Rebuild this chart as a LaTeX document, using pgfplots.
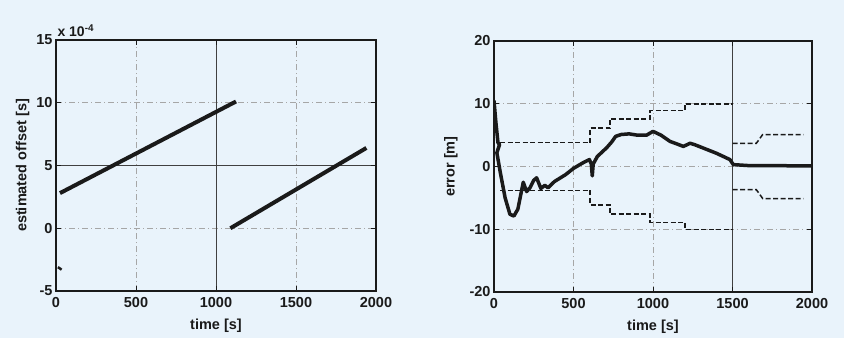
\documentclass[border=0pt]{standalone}
\usepackage{pgfplots}
\pgfplotsset{compat=1.18}
\usepackage{fontspec}
\setmainfont{Liberation Sans}
\definecolor{bg}{HTML}{E9F3FB}
\definecolor{ink}{HTML}{1A1A1A}
\begin{document}
\begin{tikzpicture}
\fill[bg] (0pt,0pt) rectangle (844pt,338pt);
\pgfplotsset{
 mystyle/.style={
  scale only axis, width=320pt, height=251pt, anchor=south west,
  xmin=0, xmax=2000, xtick={0,500,1000,1500,2000},
  axis line style={ink, line width=1.4pt},
  tick style={ink, line width=0.8pt}, tick align=inside, major tick length=5pt,
  grid=major,
  major grid style={black!35, line width=0.6pt, dash pattern=on 6pt off 3pt on 1pt off 3pt},
  /pgf/number format/assume math mode=true,
  /pgf/number format/1000 sep={},
  scaled ticks=false,
  tick label style={font=\bfseries\fontsize{14.5}{16}\selectfont, text=ink},
  xticklabel style={yshift=-3pt},
  label style={font=\bfseries\fontsize{14.5}{16}\selectfont, text=ink},
  xlabel={time [s]},
  xlabel style={yshift=-4pt},
  axis background/.style={fill=bg},
  extra tick style={grid=major, major grid style={black!75, solid, line width=0.8pt}},
 }
}
\begin{axis}[mystyle, at={(56pt,47pt)},
  ymin=-5, ymax=15, ytick={-5,0,5,10,15},
  ylabel={estimated offset [s]},
  extra x ticks={1000}, extra x tick labels={},
  extra y ticks={5}, extra y tick labels={}]
\addplot[ink, line width=4pt] coordinates {(25,2.8) (1125,10.1)};
\addplot[ink, line width=4pt] coordinates {(1090,0) (1940,6.4)};
\addplot[ink, line width=2.5pt] coordinates {(12,-3.1) (35,-3.3)};
\end{axis}
\node[anchor=south west, font=\bfseries\fontsize{14}{16}\selectfont, text=ink] at (54pt,298pt) {x 10\textsuperscript{-4}};
\begin{axis}[mystyle, at={(494pt,46pt)}, width=318pt,
  ymin=-20, ymax=20, ytick={-20,-10,0,10,20},
  ylabel={error [m]}, ylabel style={yshift=5pt},
  extra x ticks={1500}, extra x tick labels={}]
\addplot[ink, line width=1.5pt, dash pattern=on 5pt off 2.5pt, const plot] coordinates {(38,3.8) (604,6.1) (729,7.6) (981,8.9) (1201,10) (1500,10)};
\addplot[ink, line width=1.5pt, dash pattern=on 5pt off 2.5pt, const plot] coordinates {(38,-3.8) (604,-6.1) (729,-7.6) (981,-8.9) (1201,-10) (1500,-10)};
\addplot[ink, line width=1.5pt, dash pattern=on 5pt off 2.5pt] coordinates {(1500,3.7) (1650,3.7) (1690,5.1) (1945,5.1)};
\addplot[ink, line width=1.5pt, dash pattern=on 5pt off 2.5pt] coordinates {(1500,-3.7) (1650,-3.7) (1690,-5.1) (1945,-5.1)};
\addplot[ink, line width=3.5pt, line join=round] coordinates {
 (0,10.5) (12,7) (25,3.8) (35,3.5) (18,2.2) (40,-1) (70,-5) (100,-7.6) (125,-7.9) (150,-6.8)
 (184,-2.5) (205,-4) (226,-3.4) (250,-2.2) (268,-1.8) (295,-3.5) (320,-3.0) (340,-3.4)
 (380,-2.4) (450,-1.3) (500,-0.3) (560,0.6) (600,1.1) (612,0.4) (618,-1.5) (624,0.4)
 (650,1.6) (709,3.0) (740,3.9) (765,4.8) (800,5.1) (850,5.2) (900,5.0) (960,5.0) (1000,5.6)
 (1050,5.0) (1107,4.0) (1150,3.6) (1191,3.2) (1233,3.7) (1260,3.5) (1320,2.9) (1400,2.1)
 (1484,1.1) (1505,0.3) (1600,0.15) (2000,0.1)};
\end{axis}
\end{tikzpicture}
\end{document}
